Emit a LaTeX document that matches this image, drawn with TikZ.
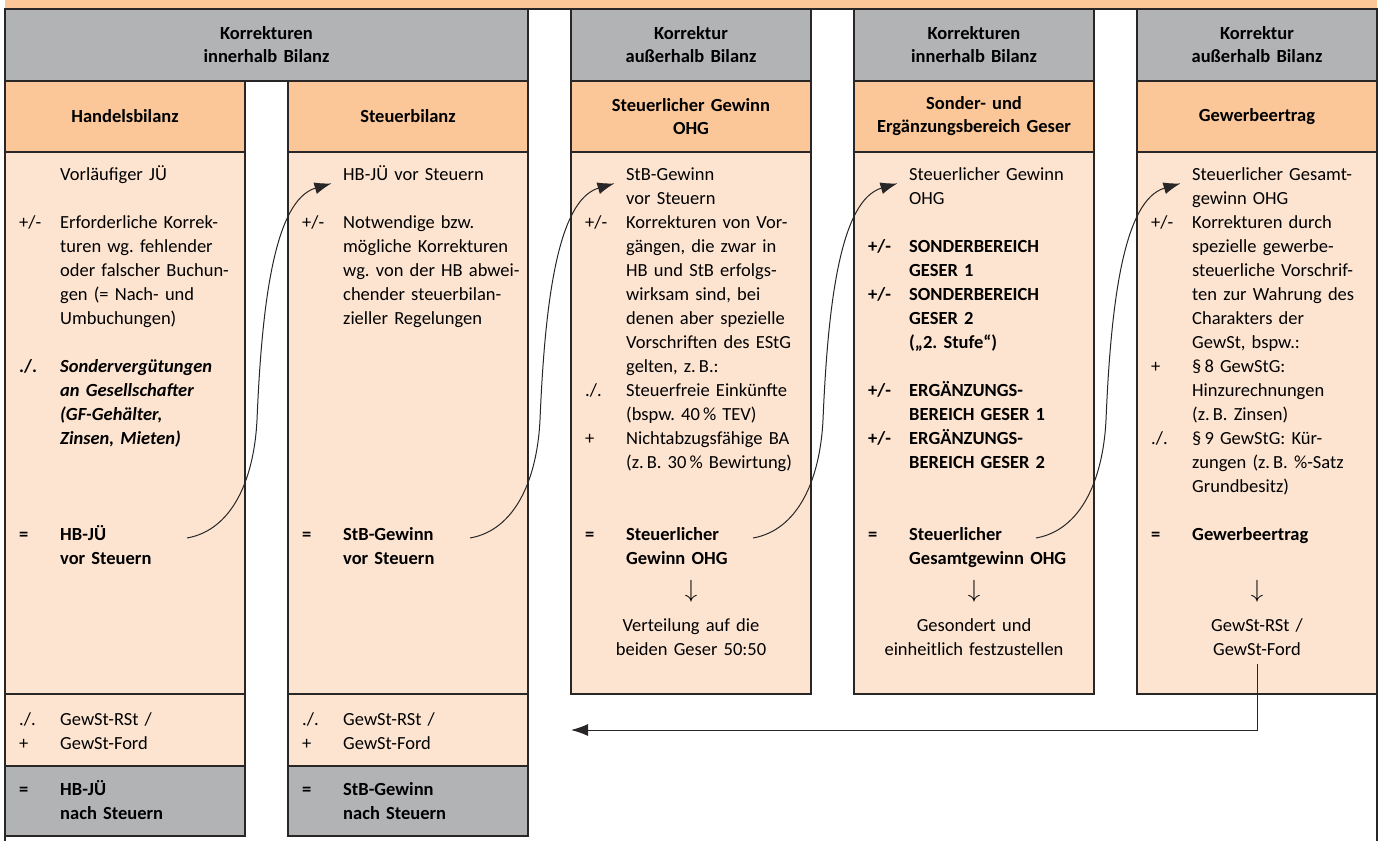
\documentclass[tikz,border=0pt]{standalone}
\usepackage{fontspec}
\setmainfont{Carlito}
\usetikzlibrary{arrows.meta}
\frenchspacing

\definecolor{headorange}{RGB}{251,199,153}
\definecolor{bodyorange}{RGB}{253,228,209}
\definecolor{headgray}{RGB}{177,179,181}
\definecolor{rulecol}{RGB}{40,38,38}

\newcommand{\bodyfont}{\fontsize{18.5}{24}\selectfont}
\newcommand{\headfont}{\fontsize{18.5}{23}\selectfont\bfseries}

\tikzset{
  grayfield/.style={fill=headgray, draw=rulecol, line width=1.3pt},
  headfield/.style={fill=headorange, draw=rulecol, line width=1.3pt},
  bodyfield/.style={fill=bodyorange, draw=rulecol, line width=1.3pt},
  headtext/.style={font=\headfont, align=center, text width=236pt, inner sep=0pt},
  sgn/.style={font=\bodyfont, anchor=base west, inner sep=0pt, text width=40pt, align=left},
  entry/.style={font=\bodyfont, anchor=base west, inner sep=0pt, text width=182pt, align=left},
  result/.style={font=\bodyfont, anchor=base, inner sep=0pt, text width=232pt, align=center},
  downmark/.style={font=\fontsize{24}{24}\selectfont, inner sep=0pt},
  link/.style={rulecol, line width=1pt, -{Latex[length=17pt,width=12pt]}},
}

\begin{document}
\begin{tikzpicture}[x=1pt,y=-1pt]
\useasboundingbox (0,0) rectangle (1380,841);

% frame
\fill[headorange] (5,0) rectangle (1377,9);
\draw[rulecol, line width=1.3pt] (5,841) -- (5,9) -- (1377,9) -- (1377,841);

% grey header row
\draw[grayfield] (5,9) rectangle (528,81);
\draw[grayfield] (571,9) rectangle (811,81);
\draw[grayfield] (854,9) rectangle (1094,81);
\draw[grayfield] (1137,9) rectangle (1377,81);

% orange header row
\draw[headfield] (5,81) rectangle (245,152);
\draw[headfield] (288,81) rectangle (528,152);
\draw[headfield] (571,81) rectangle (811,152);
\draw[headfield] (854,81) rectangle (1094,152);
\draw[headfield] (1137,81) rectangle (1377,152);

% bodies
\draw[bodyfield] (5,152) rectangle (245,694);
\draw[bodyfield] (288,152) rectangle (528,694);
\draw[bodyfield] (571,152) rectangle (811,694);
\draw[bodyfield] (854,152) rectangle (1094,694);
\draw[bodyfield] (1137,152) rectangle (1377,694);
\draw[bodyfield] (5,694) rectangle (245,766);
\draw[bodyfield] (288,694) rectangle (528,766);
\draw[grayfield] (5,766) rectangle (245,836);
\draw[grayfield] (288,766) rectangle (528,836);

% headings
\node[headtext] (kinA) at (266.5,45) {Korrekturen\\innerhalb Bilanz};
\node[headtext] (kausA) at (691,45) {Korrektur\\außerhalb Bilanz};
\node[headtext] (kinB) at (974,45) {Korrekturen\\innerhalb Bilanz};
\node[headtext] (kausB) at (1257,45) {Korrektur\\außerhalb Bilanz};
\node[headtext] (hbhead) at (125,116.5) {Handelsbilanz};
\node[headtext] (stbhead) at (408,116.5) {Steuerbilanz};
\node[headtext] (ohghead) at (691,116.5) {Steuerlicher Gewinn\\OHG};
\node[headtext] (sonderhead) at (974,116.5) {Sonder- und\\Ergänzungsbereich Geser};
\node[headtext] (gewhead) at (1257,116.5) {Gewerbeertrag};

% Handelsbilanz
\node[entry] (hbin) at (60,180) {Vorläufiger JÜ};
\node[sgn] (hbsA) at (19,228) {+/-};
\node[entry] (hbkorr) at (60,228) {Erforderliche Korrek-\\turen wg. fehlender\\oder falscher Buchun-\\gen (= Nach- und\\Umbuchungen)};
\node[sgn, font=\bodyfont\bfseries] (hbsB) at (19,372) {./.};
\node[entry, font=\bodyfont\bfseries\itshape] (hbsv) at (60,372) {Sondervergütungen\\an Gesellschafter\\(GF-Gehälter,\\Zinsen, Mieten)};
\node[sgn, font=\bodyfont\bfseries] (hbsC) at (19,540) {=};
\node[entry, font=\bodyfont\bfseries] (hbout) at (60,540) {HB-JÜ\\vor Steuern};
\node[sgn] (hbsD) at (19,725) {./.\\+};
\node[entry] (hbgew) at (60,725) {GewSt-RSt /\\GewSt-Ford};
\node[sgn, font=\bodyfont\bfseries] (hbsE) at (19,795) {=};
\node[entry, font=\bodyfont\bfseries] (hbnach) at (60,795) {HB-JÜ\\nach Steuern};

% Steuerbilanz
\node[entry] (stbin) at (343,180) {HB-JÜ vor Steuern};
\node[sgn] (stbsA) at (302,228) {+/-};
\node[entry] (stbkorr) at (343,228) {Notwendige bzw.\\mögliche Korrekturen\\wg. von der HB abwei-\\chender steuerbilan-\\zieller Regelungen};
\node[sgn, font=\bodyfont\bfseries] (stbsB) at (302,540) {=};
\node[entry, font=\bodyfont\bfseries] (stbout) at (343,540) {StB-Gewinn\\vor Steuern};
\node[sgn] (stbsC) at (302,725) {./.\\+};
\node[entry] (stbgew) at (343,725) {GewSt-RSt /\\GewSt-Ford};
\node[sgn, font=\bodyfont\bfseries] (stbsD) at (302,795) {=};
\node[entry, font=\bodyfont\bfseries] (stbnach) at (343,795) {StB-Gewinn\\nach Steuern};

% Steuerlicher Gewinn OHG
\node[entry] (ohgin) at (626,180) {StB-Gewinn\\vor Steuern};
\node[sgn] (ohgsA) at (585,228) {+/-};
\node[entry] (ohgkorr) at (626,228) {Korrekturen von Vor-\\gängen, die zwar in\\HB und StB erfolgs-\\wirksam sind, bei\\denen aber spezielle\\Vorschriften des EStG\\gelten, z.\,B.:};
\node[sgn] (ohgsB) at (585,396) {./.};
\node[entry] (ohgfrei) at (626,396) {Steuerfreie Einkünfte\\(bspw. 40\,\% TEV)};
\node[sgn] (ohgsC) at (585,444) {+};
\node[entry] (ohgba) at (626,444) {Nichtabzugsfähige BA\\(z.\,B. 30\,\% Bewirtung)};
\node[sgn, font=\bodyfont\bfseries] (ohgsD) at (585,540) {=};
\node[entry, font=\bodyfont\bfseries] (ohgout) at (626,540) {Steuerlicher\\Gewinn OHG};
\node[downmark] (ohgdown) at (691,591) {$\downarrow$};
\node[result] (ohgvert) at (691,631) {Verteilung auf die\\beiden Geser 50:50};

% Sonder- und Ergaenzungsbereich
\node[entry] (sondin) at (909,180) {Steuerlicher Gewinn\\OHG};
\node[sgn, font=\bodyfont\bfseries] (sondsA) at (868,252) {+/-};
\node[entry, font=\bodyfont\bfseries] (sondA) at (909,252) {SONDERBEREICH\\GESER 1};
\node[sgn, font=\bodyfont\bfseries] (sondsB) at (868,300) {+/-};
\node[entry, font=\bodyfont\bfseries] (sondB) at (909,300) {SONDERBEREICH\\GESER 2\\(„2. Stufe“)};
\node[sgn, font=\bodyfont\bfseries] (sondsC) at (868,396) {+/-};
\node[entry, font=\bodyfont\bfseries] (ergA) at (909,396) {ERGÄNZUNGS-\\BEREICH GESER 1};
\node[sgn, font=\bodyfont\bfseries] (sondsD) at (868,444) {+/-};
\node[entry, font=\bodyfont\bfseries] (ergB) at (909,444) {ERGÄNZUNGS-\\BEREICH GESER 2};
\node[sgn, font=\bodyfont\bfseries] (sondsE) at (868,540) {=};
\node[entry, font=\bodyfont\bfseries] (sondout) at (909,540) {Steuerlicher\\Gesamtgewinn OHG};
\node[downmark] (sonddown) at (974,591) {$\downarrow$};
\node[result] (sondfest) at (974,631) {Gesondert und\\einheitlich festzustellen};

% Gewerbeertrag
\node[entry] (gewin) at (1192,180) {Steuerlicher Gesamt-\\gewinn OHG};
\node[sgn] (gewsA) at (1151,228) {+/-};
\node[entry] (gewkorr) at (1192,228) {Korrekturen durch\\spezielle gewerbe-\\steuerliche Vorschrif-\\ten zur Wahrung des\\Charakters der\\GewSt, bspw.:};
\node[sgn] (gewsB) at (1151,372) {+};
\node[entry] (gewhinzu) at (1192,372) {§\,8 GewStG:\\Hinzurechnungen\\(z.\,B. Zinsen)};
\node[sgn] (gewsC) at (1151,444) {./.};
\node[entry] (gewkuerz) at (1192,444) {§\,9 GewStG: Kür-\\zungen (z.\,B. \%-Satz\\Grundbesitz)};
\node[sgn, font=\bodyfont\bfseries] (gewsD) at (1151,540) {=};
\node[entry, font=\bodyfont\bfseries] (gewout) at (1192,540) {Gewerbeertrag};
\node[downmark] (gewdown) at (1257,591) {$\downarrow$};
\node[result] (gewst) at (1257,631) {GewSt-RSt /\\GewSt-Ford};

% connectors
\coordinate (hbend) at (187,538);
\coordinate (stbend) at (470,538);
\coordinate (ohgend) at (753,538);
\coordinate (sondend) at (1036,538);
\coordinate (back) at (571,730);

\draw[link, shorten >=12pt] (hbend) .. controls (232,530) and (254,480) .. (257,420)
  .. controls (262,300) and (275,200) .. (stbin.base west);
\draw[link, shorten >=12pt] (stbend) .. controls (515,530) and (537,480) .. (540,420)
  .. controls (545,300) and (558,200) .. (ohgin.base west);
\draw[link, shorten >=12pt] (ohgend) .. controls (798,530) and (820,480) .. (823,420)
  .. controls (828,300) and (841,200) .. (sondin.base west);
\draw[link, shorten >=12pt] (sondend) .. controls (1081,530) and (1103,480) .. (1106,420)
  .. controls (1111,300) and (1124,200) .. (gewin.base west);
\draw[link] (gewst.south) ++(0,9) |- (back);
\end{tikzpicture}
\end{document}
